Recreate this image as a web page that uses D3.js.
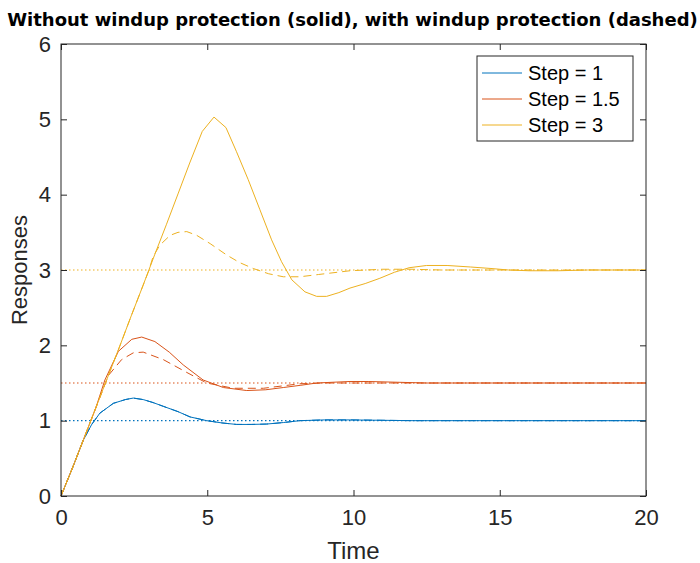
<!DOCTYPE html>
<html>
<head>
<meta charset="utf-8">
<script src="https://cdn.jsdelivr.net/npm/d3@7"></script>
<style>
  body { margin: 0; background: #fff; }
  svg { font-family: "Liberation Sans", Arial, sans-serif; }
</style>
</head>
<body>
<div id="chart"></div>
<script>
// Valeurs
const stepLabels = ["Step = 1", "Step = 1.5", "Step = 3"];
const stepLevels = [1, 1.5, 3];
const couleurs = ["#0072BD", "#D95319", "#EDB120"];
const xTicks = [0, 5, 10, 15, 20];
const yTicks = [0, 1, 2, 3, 4, 5, 6];

// Step = 1 (identique avec ou sans protection)
const t1 = [0, 0.4, 0.76, 1.05, 1.33, 1.79, 2.2, 2.47, 2.81, 3.15, 3.5, 4.0, 4.41, 4.98, 5.5, 6.0, 6.5, 7.03, 7.6, 8.17, 9.0, 9.88, 11, 12, 14, 16, 18, 20];
const y1 = [0, 0.38, 0.74, 0.95, 1.1, 1.23, 1.28, 1.30, 1.28, 1.24, 1.19, 1.12, 1.05, 1.0, 0.97, 0.95, 0.95, 0.955, 0.975, 1.0, 1.01, 1.01, 1.005, 1.0, 1.0, 1.0, 1.0, 1.0];

// Step = 1.5
const t15 = [0, 0.4, 0.8, 1.2, 1.5, 1.96, 2.42, 2.76, 3.21, 3.7, 4.18, 4.86, 5.55, 6.35, 7.0, 7.6, 8.2, 8.74, 9.3, 9.88, 10.5, 11.5, 12.5, 14, 16, 18, 20];
const y15 = [0, 0.38, 0.78, 1.18, 1.54, 1.92, 2.08, 2.11, 2.05, 1.91, 1.74, 1.54, 1.44, 1.40, 1.41, 1.44, 1.47, 1.50, 1.51, 1.52, 1.52, 1.51, 1.50, 1.50, 1.5, 1.5, 1.5];
const t15d = [0, 0.4, 0.8, 1.2, 1.62, 2.07, 2.47, 2.81, 3.5, 4.3, 4.98, 5.89, 6.92, 8.17, 9.0, 10, 12, 14, 16, 18, 20];
const y15d = [0, 0.38, 0.78, 1.18, 1.6, 1.81, 1.90, 1.91, 1.81, 1.64, 1.50, 1.43, 1.43, 1.49, 1.5, 1.5, 1.5, 1.5, 1.5, 1.5, 1.5];

// Step = 3
const t3 = [0, 0.4, 0.8, 1.2, 1.6, 2.0, 2.4, 2.8, 3.2, 3.6, 4.0, 4.4, 4.83, 5.23, 5.64, 6.0, 6.4, 6.8, 7.2, 7.54, 7.89, 8.34, 8.74, 9.08, 9.5, 9.88, 10.4, 10.9, 11.4, 11.9, 12.5, 13.2, 14.0, 14.7, 15.3, 16, 17, 18, 19, 20];
const y3 = [0, 0.38, 0.78, 1.18, 1.58, 1.98, 2.39, 2.79, 3.2, 3.6, 4.01, 4.42, 4.84, 5.03, 4.89, 4.57, 4.20, 3.80, 3.40, 3.11, 2.87, 2.71, 2.65, 2.65, 2.70, 2.76, 2.82, 2.89, 2.97, 3.03, 3.06, 3.06, 3.04, 3.02, 3.0, 2.99, 2.99, 3.0, 3.0, 3.0];
const t3d = [0, 0.4, 0.8, 1.2, 1.6, 2.0, 2.4, 2.8, 3.0, 3.15, 3.38, 3.73, 4.0, 4.3, 4.64, 5.1, 5.66, 6.1, 6.57, 7.1, 7.6, 8.17, 8.8, 9.88, 11, 12, 13, 14, 16, 18, 20];
const y3d = [0, 0.38, 0.78, 1.18, 1.58, 1.98, 2.39, 2.79, 2.99, 3.18, 3.33, 3.46, 3.50, 3.51, 3.46, 3.35, 3.2, 3.1, 3.02, 2.95, 2.91, 2.91, 2.94, 2.99, 3.01, 3.01, 3.0, 3.0, 3.0, 3.0, 3.0];

const width = 700;
const height = 563;
const margin = { top: 44, right: 54, bottom: 67, left: 61 };

const svg = d3.select("#chart").append("svg")
    .attr("width", width)
    .attr("height", height);

const x = d3.scaleLinear().domain([0, 20]).range([margin.left, width - margin.right]);
const y = d3.scaleLinear().domain([0, 6]).range([height - margin.bottom, margin.top]);

const line = d3.line().x(d => x(d[0])).y(d => y(d[1]));
const zip = (ts, ys) => ts.map((t, i) => [t, ys[i]]);

const courbes = [
    { pts: zip(t1, y1), c: 0, dash: null },
    { pts: zip(t1, y1), c: 0, dash: "8,5" },
    { pts: zip(t15, y15), c: 1, dash: null },
    { pts: zip(t15d, y15d), c: 1, dash: "8,5" },
    { pts: zip(t3, y3), c: 2, dash: null },
    { pts: zip(t3d, y3d), c: 2, dash: "8,5" }
];

// Lignes de consigne pointillées
svg.selectAll(".ref")
    .data(stepLevels)
    .enter().append("path")
    .attr("class", "ref")
    .attr("d", d => line([[0, d], [20, d]]))
    .attr("fill", "none")
    .attr("stroke", (d, i) => couleurs[i])
    .attr("stroke-width", 1.2)
    .attr("stroke-dasharray", "1.5,2.5");

svg.selectAll(".courbe")
    .data(courbes)
    .enter().append("path")
    .attr("class", "courbe")
    .attr("d", d => line(d.pts))
    .attr("fill", "none")
    .attr("stroke", d => couleurs[d.c])
    .attr("stroke-width", 1)
    .attr("stroke-dasharray", d => d.dash);

// Axes (style MATLAB, ticks vers l'intérieur, boîte complète)
const axisColor = "#262626";
const styleAxis = g => {
    g.select(".domain").remove();
    g.selectAll(".tick line").attr("stroke", axisColor);
    g.selectAll(".tick text").attr("fill", axisColor).attr("font-size", 22);
};

svg.append("g")
    .attr("transform", `translate(0,${y(0)})`)
    .call(d3.axisBottom(x).tickValues(xTicks).tickSize(-6).tickPadding(13))
    .call(styleAxis);
svg.append("g")
    .attr("transform", `translate(0,${y(6)})`)
    .call(d3.axisTop(x).tickValues(xTicks).tickSize(-6).tickFormat(""))
    .call(styleAxis);
svg.append("g")
    .attr("transform", `translate(${x(0)},0)`)
    .call(d3.axisLeft(y).tickValues(yTicks).tickSize(-6).tickPadding(10).tickFormat(d3.format("d")))
    .call(styleAxis);
svg.append("g")
    .attr("transform", `translate(${x(20)},0)`)
    .call(d3.axisRight(y).tickValues(yTicks).tickSize(-6).tickFormat(""))
    .call(styleAxis);

svg.append("rect")
    .attr("x", x(0)).attr("y", y(6))
    .attr("width", x(20) - x(0)).attr("height", y(0) - y(6))
    .attr("fill", "none").attr("stroke", axisColor).attr("stroke-width", 1);

// Titres
svg.append("text")
    .attr("x", 352.5).attr("y", 26)
    .attr("text-anchor", "middle")
    .attr("font-family", "'DejaVu Sans', sans-serif")
    .attr("font-weight", "bold").attr("font-size", 18)
    .text("Without windup protection (solid), with windup protection (dashed)");

svg.append("text")
    .attr("x", (x(0) + x(20)) / 2).attr("y", 559)
    .attr("text-anchor", "middle")
    .attr("font-size", 24).attr("fill", axisColor)
    .text("Time");

svg.append("text")
    .attr("transform", `translate(27,${(y(0) + y(6)) / 2}) rotate(-90)`)
    .attr("text-anchor", "middle")
    .attr("font-size", 22).attr("fill", axisColor)
    .text("Responses");

// Légende
const legend = svg.append("g").attr("transform", "translate(477,56)");
legend.append("rect")
    .attr("width", 156).attr("height", 85)
    .attr("fill", "#fff").attr("stroke", axisColor).attr("stroke-width", 1);
const items = legend.selectAll(".item")
    .data(stepLabels)
    .enter().append("g")
    .attr("class", "item")
    .attr("transform", (d, i) => `translate(0,${17 + i * 26})`);
items.append("line")
    .attr("x1", 5).attr("x2", 45)
    .attr("stroke", (d, i) => couleurs[i]).attr("stroke-width", 1);
items.append("text")
    .attr("x", 51).attr("dy", "0.35em")
    .attr("font-size", 20).attr("fill", "#000")
    .text(d => d);
</script>
</body>
</html>
